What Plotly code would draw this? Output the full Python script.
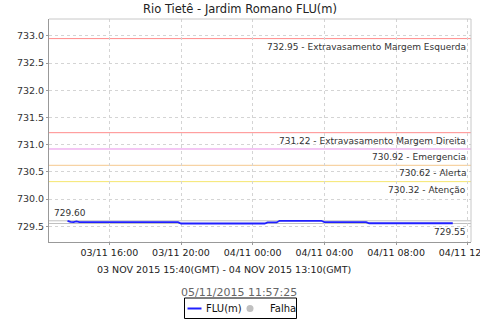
import plotly.graph_objects as go

# ---- data ----
times = ["2015-11-03 13:40", "2015-11-03 13:50", "2015-11-03 14:00", "2015-11-03 14:10",
         "2015-11-03 14:20", "2015-11-03 19:50", "2015-11-03 20:00", "2015-11-04 00:40",
         "2015-11-04 00:50", "2015-11-04 01:20", "2015-11-04 01:30", "2015-11-04 03:50",
         "2015-11-04 04:00", "2015-11-04 06:20", "2015-11-04 06:30", "2015-11-04 11:10"]
flu = [729.60, 729.58, 729.575, 729.59, 729.575, 729.575, 729.55, 729.55,
       729.57, 729.57, 729.60, 729.60, 729.575, 729.575, 729.555, 729.555]

threshold_values = [732.95, 731.22, 730.92, 730.62, 730.32]
threshold_names = ["Extravasamento Margem Esquerda", "Extravasamento Margem Direita",
                   "Emergencia", "Alerta", "Atenção"]
threshold_colors = ["#ff8c8c", "#ff8c8c", "#e88ee8", "#f5c88e", "#f5e66e"]

max_value = 729.60
min_value = 729.55

title = "Rio Tietê - Jardim Romano FLU(m)"
subtitle = "03 NOV 2015 15:40(GMT) - 04 NOV 2015 13:10(GMT)"
timestamp = "05/11/2015 11:57:25"
x_range = ["2015-11-03 12:38", "2015-11-04 12:11"]
y_range = [729.21, 733.31]
y_ticks = [729.5, 730.0, 730.5, 731.0, 731.5, 732.0, 732.5, 733.0]

FONT = "DejaVu Sans"

fig = go.Figure()
fig.add_trace(go.Scatter(x=times, y=flu, mode="lines", name="FLU(m)",
                         line=dict(color="#2020ff", width=1.8), showlegend=False))

shapes = []
annotations = []

# min / max gray lines
for v in [max_value, min_value]:
    shapes.append(dict(type="line", xref="paper", x0=0, x1=1, yref="y", y0=v, y1=v,
                       line=dict(color="#c0c0c0", width=1), layer="below"))
annotations.append(dict(xref="paper", x=0, xanchor="left", xshift=3, yref="y", y=max_value,
                        yanchor="middle", yshift=8, text=f"{max_value:.2f}", showarrow=False,
                        font=dict(family=FONT, size=9, color="#333")))
annotations.append(dict(xref="paper", x=1, xanchor="right", xshift=-3, yref="y", y=min_value,
                        yanchor="middle", yshift=-8, text=f"{min_value:.2f}", showarrow=False,
                        font=dict(family=FONT, size=9, color="#333")))

# threshold lines
for v, n, c in zip(threshold_values, threshold_names, threshold_colors):
    shapes.append(dict(type="line", xref="paper", x0=0, x1=1, yref="y", y0=v, y1=v,
                       line=dict(color=c, width=1), layer="below"))
    annotations.append(dict(xref="paper", x=1, xanchor="right", xshift=-3, yref="y", y=v,
                            yanchor="middle", yshift=-8, text=f"{v:.2f} - {n}", showarrow=False,
                            font=dict(family=FONT, size=9, color="#333")))

# top/right light border
shapes.append(dict(type="line", xref="paper", x0=0, x1=1, yref="paper", y0=1, y1=1,
                   line=dict(color="#c8c8c8", width=1)))
shapes.append(dict(type="line", xref="paper", x0=1, x1=1, yref="paper", y0=0, y1=1,
                   line=dict(color="#c8c8c8", width=1)))

# subtitles
PW = 422.0
PH = 223.0
def px_x(px):
    return (px - 49) / PW
def px_y(py):
    return (242 - py) / PH

annotations.append(dict(xref="paper", yref="paper", x=px_x(223.5), y=px_y(269),
                        xanchor="center", yanchor="middle", text=subtitle, showarrow=False,
                        font=dict(family=FONT, size=9.5, color="#222")))
annotations.append(dict(xref="paper", yref="paper", x=px_x(239), y=px_y(292),
                        xanchor="center", yanchor="middle", text=timestamp, showarrow=False,
                        font=dict(family=FONT, size=11, color="#666")))

# manual legend
shapes.append(dict(type="rect", xref="paper", yref="paper",
                   x0=px_x(184.5), x1=px_x(296.5), y0=px_y(318.5), y1=px_y(298),
                   line=dict(color="#000", width=1), fillcolor="white"))
shapes.append(dict(type="line", xref="paper", yref="paper",
                   x0=px_x(187.5), x1=px_x(201.5), y0=px_y(308.5), y1=px_y(308.5),
                   line=dict(color="#2020ff", width=2)))
shapes.append(dict(type="circle", xref="paper", yref="paper",
                   x0=px_x(246.5), x1=px_x(253.5), y0=px_y(312), y1=px_y(305),
                   line=dict(color="#c0c0c0", width=0), fillcolor="#c0c0c0"))
annotations.append(dict(xref="paper", yref="paper", x=px_x(204), y=px_y(308.5),
                        xanchor="left", yanchor="middle", text="FLU(m)", showarrow=False,
                        font=dict(family=FONT, size=10, color="#111")))
annotations.append(dict(xref="paper", yref="paper", x=px_x(268), y=px_y(308.5),
                        xanchor="left", yanchor="middle", text="Falha", showarrow=False,
                        font=dict(family=FONT, size=10, color="#111")))

fig.update_layout(
    width=480, height=320,
    margin=dict(l=49, r=9, t=19, b=78, autoexpand=False),
    paper_bgcolor="white", plot_bgcolor="white",
    title=dict(text=title, x=0.5, xref="container", xanchor="center",
               y=1 - 8.5 / 320, yref="container", yanchor="middle",
               font=dict(family=FONT, size=11.5, color="#222")),
    shapes=shapes, annotations=annotations,
    showlegend=False,
)
fig.update_xaxes(
    type="date", range=x_range, tickformat="%d/%m %H:%M", dtick=4 * 3600 * 1000,
    tick0="2015-11-03 00:00", ticklabeloverflow="allow", automargin=False,
    showgrid=True, gridcolor="#d4d4d4", griddash="3px,3px", gridwidth=1,
    showline=True, linecolor="#999", linewidth=1,
    ticks="outside", ticklen=2, tickcolor="#999",
    tickfont=dict(family=FONT, size=9.5, color="#222"), zeroline=False,
)
fig.update_yaxes(
    range=y_range, tickvals=y_ticks, tickformat=".1f", automargin=False,
    showgrid=True, gridcolor="#d4d4d4", griddash="3px,3px", gridwidth=1,
    showline=True, linecolor="#999", linewidth=1,
    ticks="outside", ticklen=2, tickcolor="#999",
    tickfont=dict(family=FONT, size=9.5, color="#333"), zeroline=False,
)

fig.write_html("out.html")
